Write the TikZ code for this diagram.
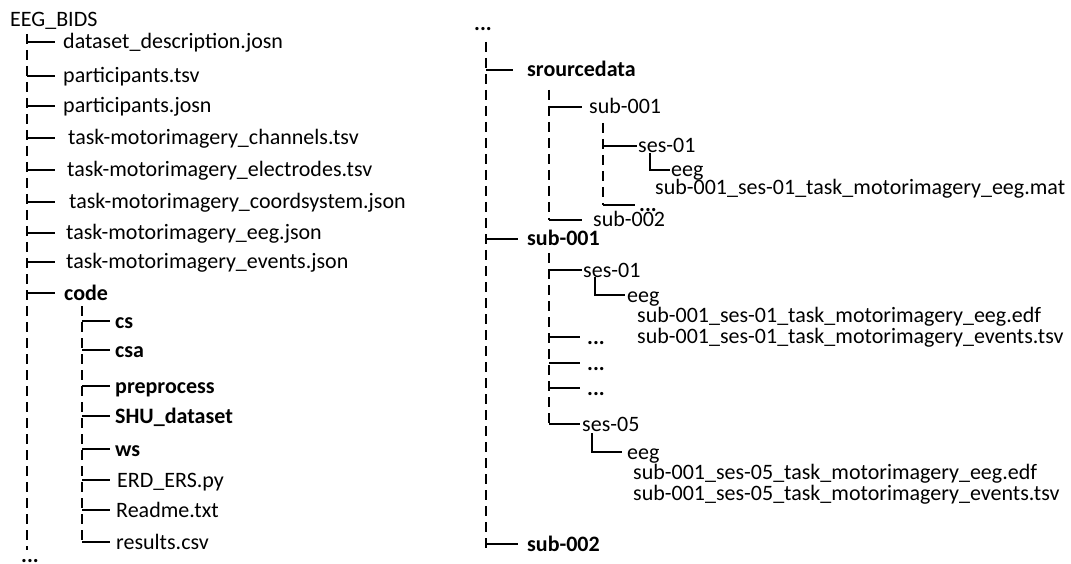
\documentclass[tikz,border=0pt]{standalone}
\usepackage{fontspec}
\setmainfont{Carlito}
\begin{document}
\begin{tikzpicture}[x=1pt,y=-1pt,
  txt/.style={anchor=base west,inner sep=0pt,font=\fontsize{22}{26}\selectfont},
  bld/.style={txt,font=\fontsize{22}{26}\selectfont\bfseries},
  br/.style={line width=1.3pt},
  trunk/.style={line width=1.3pt,dash pattern=on 10pt off 6pt}]
\useasboundingbox[fill=white] (0,0) rectangle (1071,564);
% branch macro: name, trunk x, y, end x, text x, style, text
\newcommand{\brrow}[7]{%
  \coordinate (#1c) at (#2,#3);
  \coordinate (#1e) at (#4,#3);
  \node[#6] (#1) at (#5,#3+7) {#7};
  \draw[br] (#1c) -- (#1e);}
% ---------------- left column
\node[txt] (root) at (10,27) {EEG\_BIDS};
\coordinate (lt0) at (27,34);
\coordinate (lt1) at (27,550);
\draw[trunk] (lt0) -- (lt1);
\brrow{l1}{27}{42}{55}{63}{txt}{dataset\_description.josn}
\brrow{l2}{27}{76}{55}{63}{txt}{participants.tsv}
\brrow{l3}{27}{106}{55}{63}{txt}{participants.josn}
\brrow{l4}{27}{138}{55}{68}{txt}{task-motorimagery\_channels.tsv}
\brrow{l5}{27}{170}{55}{67}{txt}{task-motorimagery\_electrodes.tsv}
\brrow{l6}{27}{202}{55}{69}{txt}{task-motorimagery\_coordsystem.json}
\brrow{l7}{27}{233}{55}{66}{txt}{task-motorimagery\_eeg.json}
\brrow{l8}{27}{262}{55}{66}{txt}{task-motorimagery\_events.json}
\brrow{l9}{27}{293}{55}{64}{bld}{code}
\coordinate (ct0) at (82,306);
\coordinate (ct1) at (82,542);
\draw[trunk] (ct0) -- (ct1);
\brrow{c1}{82}{321}{110}{115}{bld}{cs}
\brrow{c2}{82}{350}{110}{115}{bld}{csa}
\brrow{c3}{82}{386}{110}{115}{bld}{preprocess}
\brrow{c4}{82}{416}{110}{115}{bld}{SHU\_dataset}
\brrow{c5}{82}{449}{110}{115}{bld}{ws}
\brrow{c6}{82}{480}{110}{117}{txt}{ERD\_ERS.py}
\brrow{c7}{82}{510}{110}{116}{txt}{Readme.txt}
\brrow{c8}{82}{542}{110}{116}{txt}{results.csv}
\node[bld] (ldots) at (21,562) {...};
% ---------------- right column
\node[bld] (rdots) at (474,31) {...};
\coordinate (rt0) at (486,42);
\coordinate (rt1) at (486,553);
\draw[trunk] (rt0) -- (rt1);
\brrow{r1}{486}{70}{513}{527}{bld}{srourcedata}
\coordinate (st0) at (549,90);
\coordinate (st1) at (549,220);
\draw[trunk] (st0) -- (st1);
\brrow{s1}{549}{107}{582}{589}{txt}{sub-001}
\coordinate (sst0) at (603,123);
\coordinate (sst1) at (603,205);
\draw[trunk] (sst0) -- (sst1);
\brrow{s2}{603}{146}{637}{638}{txt}{ses-01}
\coordinate (e1a) at (650,153);
\coordinate (e1b) at (650,170);
\coordinate (e1c) at (670,170);
\node[txt] (e1) at (671,177) {eeg};
\draw[br] (e1a) -- (e1b) -- (e1c);
\node[txt] (f1) at (655,195) {sub-001\_ses-01\_task\_motorimagery\_eeg.mat};
\brrow{s3}{603}{205}{635}{639}{bld}{...}
\brrow{s4}{549}{220}{582}{593}{txt}{sub-002}
\brrow{r2}{486}{239}{518}{527}{bld}{sub-001}
\coordinate (ut0) at (549,253);
\coordinate (ut1) at (549,424);
\draw[trunk] (ut0) -- (ut1);
\brrow{u1}{549}{270}{582}{583}{txt}{ses-01}
\coordinate (e2a) at (595,277);
\coordinate (e2b) at (595,295);
\coordinate (e2c) at (625,295);
\node[txt] (e2) at (627,302) {eeg};
\draw[br] (e2a) -- (e2b) -- (e2c);
\node[txt] (f2) at (637,322) {sub-001\_ses-01\_task\_motorimagery\_eeg.edf};
\node[txt] (f3) at (637,343) {sub-001\_ses-01\_task\_motorimagery\_events.tsv};
\brrow{u2}{549}{337}{580}{587}{bld}{...}
\brrow{u3}{549}{363}{580}{587}{bld}{...}
\brrow{u4}{549}{388}{580}{587}{bld}{...}
\brrow{u5}{549}{424}{580}{582}{txt}{ses-05}
\coordinate (e3a) at (592,433);
\coordinate (e3b) at (592,452);
\coordinate (e3c) at (622,452);
\node[txt] (e3) at (627,459) {eeg};
\draw[br] (e3a) -- (e3b) -- (e3c);
\node[txt] (f4) at (633,479) {sub-001\_ses-05\_task\_motorimagery\_eeg.edf};
\node[txt] (f5) at (633,500) {sub-001\_ses-05\_task\_motorimagery\_events.tsv};
\brrow{r3}{486}{544}{518}{527}{bld}{sub-002}
\node[bld] (bdots) at (539,570) {...};
\end{tikzpicture}
\end{document}
